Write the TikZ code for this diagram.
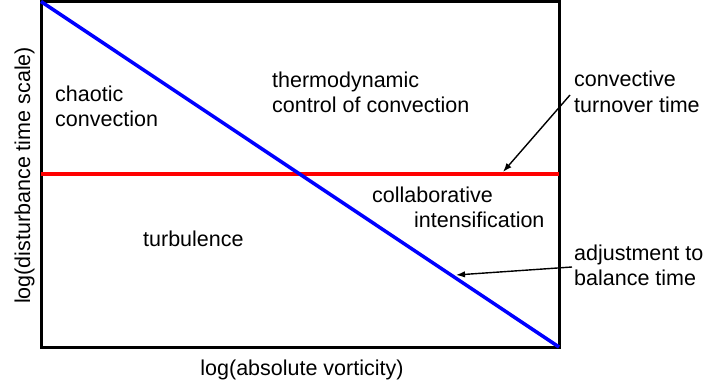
\documentclass[tikz,border=0pt]{standalone}
\usepackage{fontspec}
\setmainfont{Liberation Sans}
\usetikzlibrary{arrows.meta}
\begin{document}
\begin{tikzpicture}[x=1pt,y=1pt,
  lbl/.style={inner sep=0pt,anchor=base west,font=\fontsize{21.5}{25}\selectfont},
  framebox/.style={draw=black,line width=3pt},
  blueline/.style={draw={rgb,255:red,0;green,0;blue,255},line width=3.5pt},
  redline/.style={draw={rgb,255:red,255;green,0;blue,0},line width=3.5pt},
  pointer/.style={draw=black,line width=1.4pt,-{Latex[length=9pt,width=6.5pt]}}]
\useasboundingbox (0,0) rectangle (704,383);
\coordinate (tl) at (41,381.5);
\coordinate (br) at (559,36);
\coordinate (rl) at (41,209);
\coordinate (rr) at (559,209);
\draw[framebox] (tl) rectangle (br);
\draw[redline] (rl) -- (rr);
\draw[blueline] (tl) -- (br);
% labels
\node[lbl] (ch1) at (55,281) {chaotic};
\node[lbl] (ch2) at (55,256) {convection};
\node[lbl] (th1) at (272,295) {thermodynamic};
\node[lbl] (th2) at (272,270) {control of convection};
\node[lbl] (cv1) at (574,296) {convective};
\node[lbl] (cv2) at (574,270) {turnover time};
\node[lbl] (co1) at (372,180) {collaborative};
\node[lbl] (co2) at (414,155) {intensification};
\node[lbl] (tu) at (143,136) {turbulence};
\node[lbl] (ad1) at (574,122) {adjustment to};
\node[lbl] (ad2) at (574,97) {balance time};
\node[lbl,anchor=base] (xl) at (302,8) {log(absolute vorticity)};
\node[lbl,anchor=base,rotate=90] (yl) at (30,207.5) {log(disturbance time scale)};
% pointers
\coordinate (p1s) at (570,288);
\coordinate (p1e) at (503,211);
\coordinate (p2s) at (572,116);
\coordinate (p2e) at (456,108);
\draw[pointer] (p1s) -- (p1e);
\draw[pointer] (p2s) -- (p2e);
\end{tikzpicture}
\end{document}
